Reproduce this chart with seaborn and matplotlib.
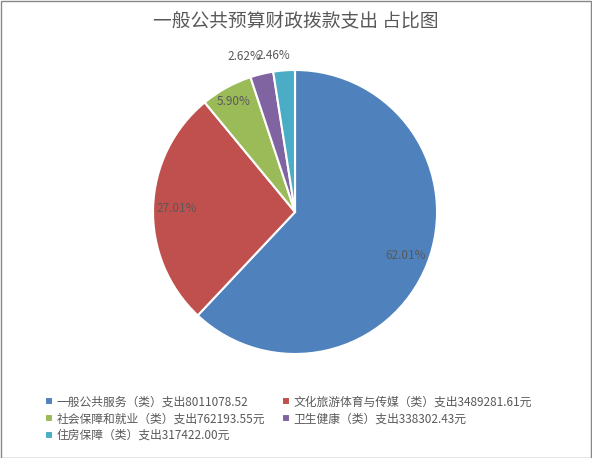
import numpy as np
import seaborn as sns
import matplotlib.pyplot as plt
from matplotlib.patches import Rectangle

categories = ["一般公共服务（类）支出", "文化旅游体育与传媒（类）支出", "社会保障和就业（类）支出",
              "卫生健康（类）支出", "住房保障（类）支出"]
values = [8011078.52, 3489281.61, 762193.55, 338302.43, 317422.00]
value_labels = ["8011078.52", "3489281.61元", "762193.55元", "338302.43元", "317422.00元"]
colors = ["#4F81BD", "#C0504D", "#9BBB59", "#8064A2", "#4BACC6"]

sns.set_theme(style="white")
plt.rcParams['font.family'] = ['Noto Sans CJK SC', 'DejaVu Sans']
text_color = "#595959"

fig = plt.figure(figsize=(5.92, 4.58), dpi=100)
ax = fig.add_axes([0.1985, 0.1496, 0.5997, 0.7751])

wedges, texts, autotexts = ax.pie(
    values, colors=sns.color_palette(colors), startangle=90, counterclock=False,
    autopct="%.2f%%", pctdistance=0.84,
    wedgeprops=dict(edgecolor="white", linewidth=1.5),
    textprops=dict(fontsize=8.5, color=text_color))
ax.set_xlim(-1.25, 1.25)
ax.set_ylim(-1.25, 1.25)
ax.set_aspect("equal")

# small slices: labels pulled outside like Excel's best fit
dist = [0.84, 0.83, 0.89, 1.15, 1.11]
shift = [0, 0, 0, 4.5, 3.5]
for w, t, d, s in zip(wedges, autotexts, dist, shift):
    ang = np.deg2rad((w.theta1 + w.theta2) / 2 + s)
    t.set_position((d * np.cos(ang), d * np.sin(ang)))

fig.text(0.5, 0.955, "一般公共预算财政拨款支出 占比图", ha="center", va="center",
         fontsize=13.5, color=text_color)

labels = [c + v for c, v in zip(categories, value_labels)]
# legend fills row by row in the reference
order = [0, 2, 4, 1, 3]
fig.legend([wedges[i] for i in order], [labels[i] for i in order],
           loc="upper left", bbox_to_anchor=(0.068, 0.147), ncol=2,
           frameon=False, fontsize=8.5, labelcolor=text_color, handlelength=0.65,
           handleheight=0.65, handletextpad=0.3, columnspacing=1.5, labelspacing=0.32,
           borderaxespad=0)

fig.patches.append(Rectangle((0.001, 0.001), 0.997, 0.997, transform=fig.transFigure,
                             fill=False, edgecolor="#888888", linewidth=1))

fig.savefig("out.png", dpi=100)
